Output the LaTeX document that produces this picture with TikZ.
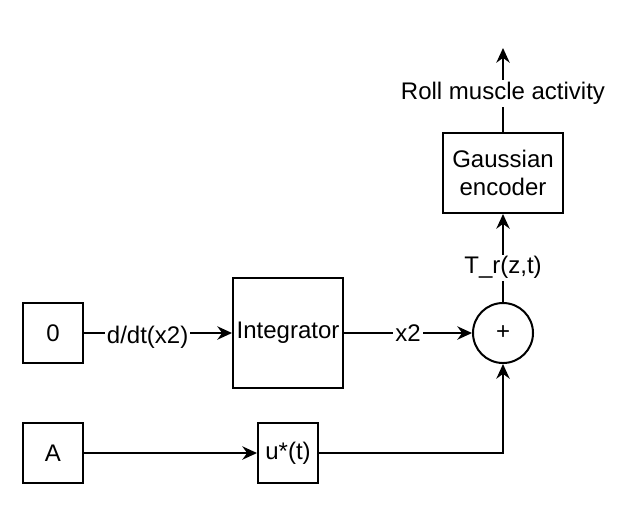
\documentclass[tikz,border=0pt]{standalone}
\usepackage{fontspec}
\setmainfont{Liberation Sans}
\usetikzlibrary{arrows.meta}

\tikzset{every picture/.style={line width=1.5pt}}
\tikzset{
  blockbox/.style={draw, inner sep=0pt, align=center, minimum width=45pt, minimum height=45pt},
  sumcirc/.style={draw, circle, inner sep=0pt, minimum size=45pt},
  wirelabel/.style={fill=white, inner sep=1.5pt},
  sig/.style={-{Stealth[length=11pt,width=10pt]}}
}

\begin{document}
\begin{tikzpicture}[x=0.75pt,y=0.75pt,yscale=-1,font=\fontsize{18}{21}\selectfont]
  \useasboundingbox (0,0) rectangle (630,512); %keep the page the size of the reference

  \node[blockbox] (zero) at (53,333) {0};
  \node[blockbox, minimum width=82.5pt, minimum height=82.5pt] (integ) at (288,333) {Integrator};
  \node[blockbox] (amp) at (53,453) {A};
  \node[blockbox] (ustar) at (288,453) {u*(t)};
  \node[sumcirc] (sum) at (503,333) {+};
  \node[blockbox, minimum width=90pt, minimum height=60pt] (enc) at (503,173) {Gaussian\\encoder};
  \coordinate (out) at (503,48);

  \draw[sig] (zero) -- node[wirelabel, pos=0.43, yshift=-3pt] {d/dt(x2)} (integ);
  \draw[sig] (integ) -- node[wirelabel] {x2} (sum);
  \draw[sig] (amp) -- (ustar);
  \draw[sig] (ustar.east) -| (sum.south);
  \draw[sig] (sum) -- node[wirelabel, pos=0.39] {T\_r(z,t)} (enc);
  \draw[sig] (enc) -- node[wirelabel, pos=0.46] {Roll muscle activity} (out);

\end{tikzpicture}
\end{document}
